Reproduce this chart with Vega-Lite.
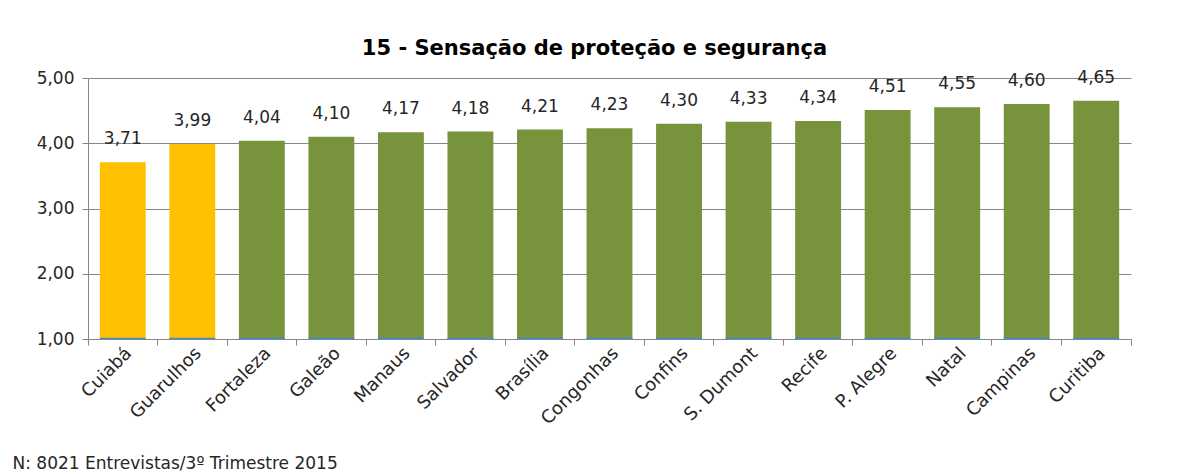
{
  "$schema": "https://vega.github.io/schema/vega-lite/v6.json",
  "width": 1043,
  "height": 261,
  "autosize": {"type": "none"},
  "padding": {"left": 88, "top": 78, "right": 53, "bottom": 135},
  "background": "white",
  "config": {
    "font": "DejaVu Sans",
    "view": {"stroke": null},
    "axis": {"labelFont": "DejaVu Sans", "titleFont": "DejaVu Sans"}
  },
  "title": {
    "text": "15 - Sensação de proteção e segurança",
    "font": "DejaVu Sans",
    "fontSize": 21,
    "fontWeight": "bold",
    "color": "#000000",
    "anchor": "middle",
    "dx": -15,
    "offset": 10
  },
  "data": {
    "values": [
      {"aeroporto": "Cuiabá", "nota": 3.71, "grupo": "destaque"},
      {"aeroporto": "Guarulhos", "nota": 3.99, "grupo": "destaque"},
      {"aeroporto": "Fortaleza", "nota": 4.04, "grupo": "demais"},
      {"aeroporto": "Galeão", "nota": 4.10, "grupo": "demais"},
      {"aeroporto": "Manaus", "nota": 4.17, "grupo": "demais"},
      {"aeroporto": "Salvador", "nota": 4.18, "grupo": "demais"},
      {"aeroporto": "Brasília", "nota": 4.21, "grupo": "demais"},
      {"aeroporto": "Congonhas", "nota": 4.23, "grupo": "demais"},
      {"aeroporto": "Confins", "nota": 4.30, "grupo": "demais"},
      {"aeroporto": "S. Dumont", "nota": 4.33, "grupo": "demais"},
      {"aeroporto": "Recife", "nota": 4.34, "grupo": "demais"},
      {"aeroporto": "P. Alegre", "nota": 4.51, "grupo": "demais"},
      {"aeroporto": "Natal", "nota": 4.55, "grupo": "demais"},
      {"aeroporto": "Campinas", "nota": 4.60, "grupo": "demais"},
      {"aeroporto": "Curitiba", "nota": 4.65, "grupo": "demais"}
    ]
  },
  "transform": [
    {"calculate": "replace(format(datum.nota, '.2f'), '.', ',')", "as": "rotulo"}
  ],
  "resolve": {"axis": {"x": "independent"}},
  "layer": [
    {
      "mark": {"type": "bar", "width": {"band": 0.66}},
      "encoding": {
        "x": {
          "field": "aeroporto",
          "type": "nominal",
          "sort": null,
          "scale": {"paddingInner": 0, "paddingOuter": 0},
          "axis": {
            "orient": "bottom",
            "labelAngle": -45,
            "labelAlign": "right",
            "labelBaseline": "top",
            "labelFontSize": 18,
            "labelColor": "#262626",
            "labelPadding": 5,
            "ticks": false,
            "domain": false,
            "title": "N: 8021 Entrevistas/3º Trimestre 2015",
            "titleAnchor": "start",
            "titleAlign": "left",
            "titleX": -76,
            "titleY": 129,
            "titleBaseline": "alphabetic",
            "titleFontSize": 17,
            "titleFontWeight": "normal",
            "titleColor": "#262626"
          }
        },
        "y": {
          "field": "nota",
          "type": "quantitative",
          "scale": {"domain": [1, 5], "zero": false, "nice": false},
          "axis": {
            "values": [1, 2, 3, 4, 5],
            "labelExpr": "replace(format(datum.value, '.2f'), '.', ',')",
            "labelFontSize": 17,
            "labelColor": "#262626",
            "labelPadding": 8,
            "tickSize": 6,
            "tickColor": "#868686",
            "domainColor": "#868686",
            "grid": true,
            "gridColor": "#868686",
            "title": null
          }
        },
        "y2": {"datum": 1},
        "color": {
          "field": "grupo",
          "type": "nominal",
          "scale": {"domain": ["destaque", "demais"], "range": ["#FFC000", "#77933C"]},
          "legend": null
        }
      }
    },
    {
      "mark": {"type": "bar", "width": {"band": 0.66}, "color": "#3A8DDB"},
      "encoding": {
        "x": {
          "field": "aeroporto",
          "type": "nominal",
          "sort": null,
          "axis": {
            "orient": "bottom",
            "labels": false,
            "title": null,
            "bandPosition": 1,
            "tickExtra": true,
            "ticks": true,
            "tickSize": 6,
            "tickColor": "#868686",
            "domainColor": "#868686"
          }
        },
        "y": {"datum": 1, "type": "quantitative"},
        "y2": {"datum": 1.02}
      }
    },
    {
      "mark": {"type": "text", "baseline": "bottom", "dy": -14, "fontSize": 17, "color": "#262626", "font": "DejaVu Sans"},
      "encoding": {
        "x": {"field": "aeroporto", "type": "nominal", "sort": null, "axis": null},
        "y": {"field": "nota", "type": "quantitative"},
        "text": {"field": "rotulo"}
      }
    }
  ]
}
